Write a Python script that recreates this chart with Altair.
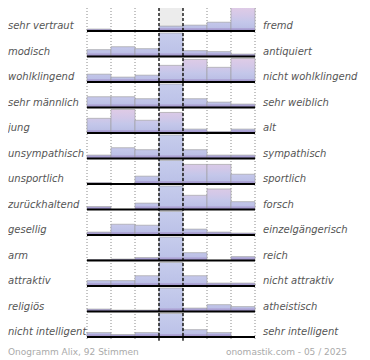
import altair as alt

# Onogramm "Alix" – semantic differential, 7 steps per scale
links = ["sehr vertraut", "modisch", "wohlklingend", "sehr männlich", "\u00a0jung",
         "unsympathisch", "unsportlich", "zurückhaltend", "gesellig", "arm",
         "attraktiv", "religiös", "nicht intelligent"]
rechts = ["fremd", "antiquiert", "nicht wohlklingend", "sehr weiblich", "alt",
          "sympathisch", "sportlich", "forsch", "einzelgängerisch", "reich",
          "nicht attraktiv", "atheistisch", "sehr intelligent"]
# relative share per step (24 = full row height, larger values run off the row)
werte = [
    [2, 0, 0, 5, 6, 9, 24],
    [7, 10, 8, 40, 6, 5, 2.5],
    [8, 5, 7, 17, 23, 15, 24],
    [11, 11, 9, 40, 9, 5.5, 3.5],
    [15, 24, 13, 21, 4, 1.5, 4],
    [3.5, 11, 9, 40, 9, 3.5, 3.5],
    [1.5, 0, 8, 40, 20, 20, 10],
    [3, 0, 6.5, 40, 14.5, 21, 8],
    [3, 11, 10, 40, 6, 3, 2],
    [1, 1.5, 3, 40, 8, 0, 4],
    [5.5, 5.5, 10.5, 40, 10.5, 3, 3],
    [2.5, 1.5, 1.5, 40, 3.5, 7, 5],
    [4.5, 2.5, 4.5, 40, 7.5, 4.5, 0],
]
fuss_links = "Onogramm Alix, 92 Stimmen"
fuss_rechts = "onomastik.com - 05 / 2025"

VMAX = 24
FULL = 23.5 / 25.5          # full bar height in row units
W, H = 168, 352
Y0 = 1 - 23 / 25.5
Y1 = Y0 + H / 25.5

STOPS = [(0.0, "#dfcbe6"), (0.35, "#d2c8e8"), (0.62, "#c4c7ea"), (0.86, "#bcc0e6"),
         (0.875, "#b1aad9"), (1.0, "#9a8ec6")]
STOPS_CAP = [(0.0, "#c6ccec"), (0.86, "#bcc2e8"), (0.875, "#b1aad9"), (1.0, "#9a8ec6")]

bar_recs, row_recs = [], []
for r, (l, rt, row) in enumerate(zip(links, rechts, werte)):
    base = r + 1
    row_recs.append({"zeile": r, "base": base, "top": base - FULL, "links": l, "rechts": rt})
    for c, v in enumerate(row, start=1):
        if v <= 0:
            continue
        capped = v > VMAX
        f = min(v, VMAX) / VMAX
        stops = STOPS_CAP if capped else STOPS
        grad = {"gradient": "linear", "x1": 0, "x2": 0, "y1": 1 - 1 / f, "y2": 1,
                "stops": [{"offset": o, "color": col} for o, col in stops]}
        bar_recs.append({"zeile": r, "stufe": c, "x0": c - 1, "x1": c,
                         "base": base, "top": base - f * FULL, "grad": grad})

grid_recs = [{"g": k, "mitte": k in (3, 4)} for k in range(8)]

xs = alt.Scale(domain=[0, 7], nice=False, zero=False)
ys = alt.Scale(domain=[Y0, Y1], reverse=True, nice=False, zero=False)

rows = alt.Chart(alt.Data(values=row_recs))
bars_c = alt.Chart(alt.Data(values=bar_recs))
grid = alt.Chart(alt.Data(values=grid_recs))

header = rows.mark_rect(color="#ececec").encode(
    x=alt.X(datum=3, scale=xs, axis=None), x2=alt.datum(4),
    y=alt.Y("top:Q", scale=ys, axis=None), y2="base:Q"
).transform_filter("datum.zeile == 0")

dotted = grid.transform_filter("!datum.mitte").mark_rule(
    color="#8a8a8a", strokeWidth=1, strokeDash=[1, 2]).encode(
    x=alt.X("g:Q", scale=xs, axis=None),
    y=alt.Y(datum=Y0, scale=ys, axis=None), y2=alt.datum(13.15))

dashed = grid.transform_filter("datum.mitte").mark_rule(
    color="#000000", strokeWidth=1.3, strokeDash=[3, 2]).encode(
    x=alt.X("g:Q", scale=xs, axis=None),
    y=alt.Y(datum=Y0, scale=ys, axis=None), y2=alt.datum(13.15))

bars = bars_c.mark_rect(stroke="#9a9a9a", strokeWidth=0.6).encode(
    x=alt.X("x0:Q", scale=xs, axis=None), x2="x1:Q",
    y=alt.Y("top:Q", scale=ys, axis=None), y2="base:Q",
    fill=alt.Fill("grad:N", scale=None, legend=None))

baselines = rows.mark_rule(color="#000000", strokeWidth=2).encode(
    x=alt.X(datum=0, scale=xs, axis=None), x2=alt.datum(7),
    y=alt.Y("base:Q", scale=ys, axis=None))

txt = dict(font="DejaVu Sans", fontSize=10, fontStyle="italic", color="#555555",
           baseline="middle", align="left", dy=-5)
left_t = rows.mark_text(**txt).encode(
    x=alt.value(-79), y=alt.Y("base:Q", scale=ys, axis=None), text="links:N")
right_t = rows.mark_text(**txt).encode(
    x=alt.value(W + 8), y=alt.Y("base:Q", scale=ys, axis=None), text="rechts:N")

fuss = alt.Chart(alt.Data(values=[{"l": fuss_links, "r": fuss_rechts}]))
foot_l = fuss.mark_text(font="DejaVu Sans", fontSize=9, color="#aaaaaa",
                        align="left", baseline="middle").encode(
    x=alt.value(-79), y=alt.value(344), text="l:N")
foot_r = fuss.mark_text(font="DejaVu Sans", fontSize=9, color="#aaaaaa",
                        align="right", baseline="middle").encode(
    x=alt.value(260), y=alt.value(344), text="r:N")

chart = alt.layer(header, dotted, bars, baselines, dashed, left_t, right_t, foot_l, foot_r).properties(
    width=W, height=H,
    autosize=alt.AutoSizeParams(type="none"),
    padding={"left": 79, "top": 0, "right": 107, "bottom": 0},
).configure_view(stroke=None)

chart.save("out.html", embed_options={"renderer": "svg", "actions": False})
